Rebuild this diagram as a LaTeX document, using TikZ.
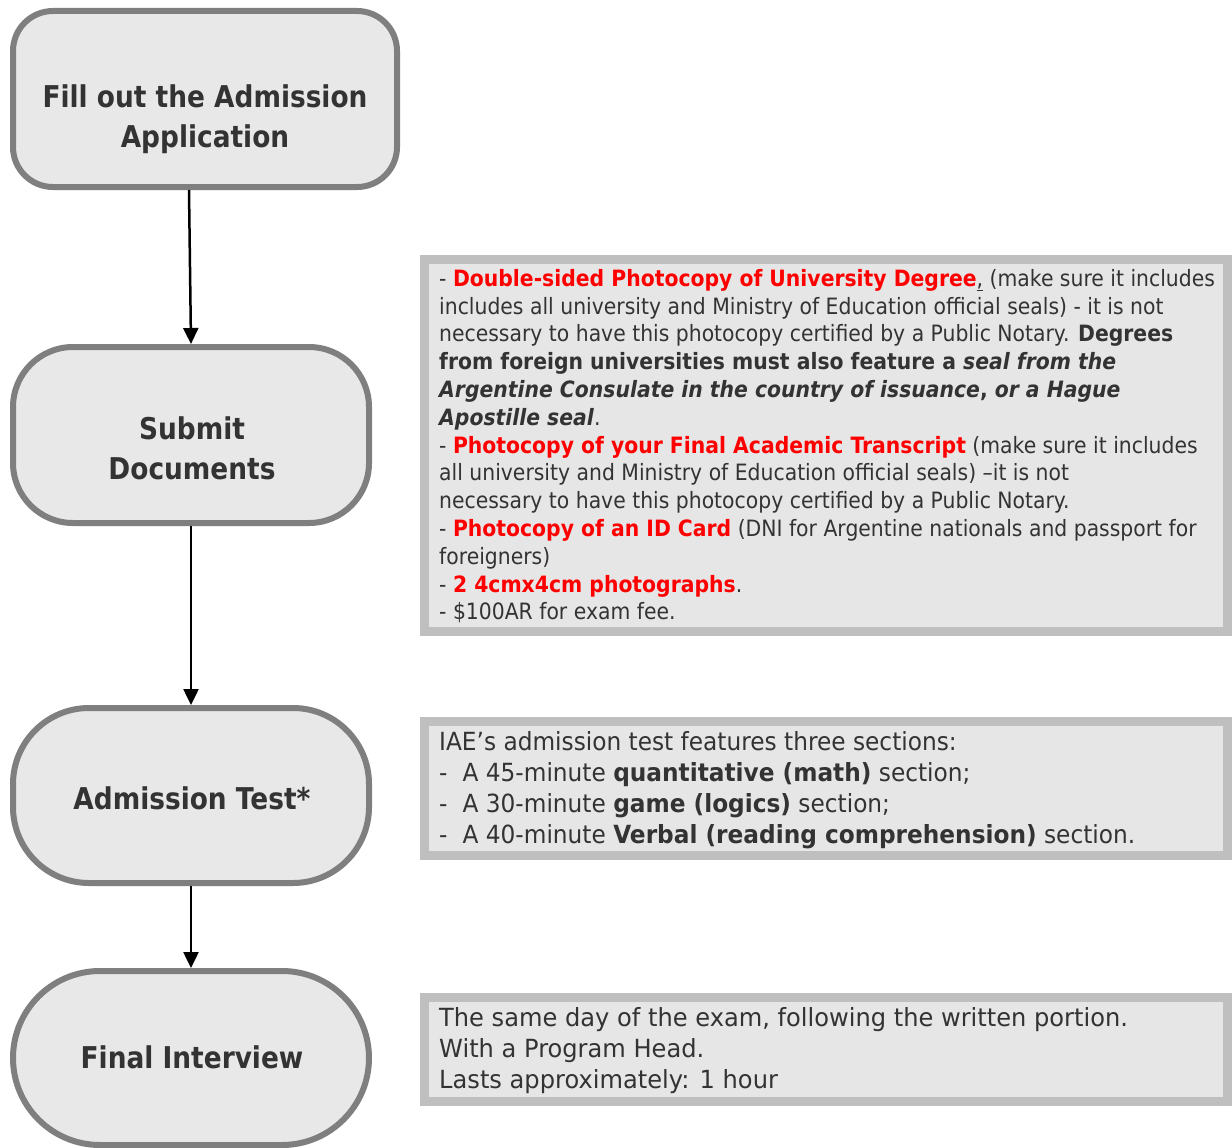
\documentclass[tikz,border=0pt]{standalone}
\usepackage{fontspec}
\setmainfont{DejaVu Sans}
\newfontfamily\titlefont[FakeStretch=0.88]{DejaVu Sans}
\newfontfamily\bodyfont[FakeStretch=0.905]{DejaVu Sans}
\newfontfamily\bodyfontB[FakeStretch=0.93]{DejaVu Sans}
\newfontfamily\bodyfontC[FakeStretch=0.965]{DejaVu Sans}
\usetikzlibrary{arrows.meta}
\definecolor{stepfill}{HTML}{E8E8E8}
\definecolor{stepdraw}{HTML}{7F7F7F}
\definecolor{notefill}{HTML}{E6E6E6}
\definecolor{notedraw}{HTML}{BFBFBF}
\definecolor{txt}{HTML}{333333}
\definecolor{hot}{HTML}{FF0000}
\newcommand{\hot}[1]{\textcolor{hot}{\bfseries #1}}
\begin{document}
\begin{tikzpicture}[x=1pt,y=-1pt,
 stepbox/.style={draw=stepdraw, fill=stepfill, line width=6pt, inner sep=0pt, outer sep=3pt},
 steplabel/.style={text=txt, font=\titlefont\bfseries\fontsize{30}{40}\selectfont, align=center, inner sep=0pt},
 notebox/.style={draw=notedraw, fill=notefill, line width=9pt, inner sep=0pt, outer sep=0pt, anchor=north west},
 notetext/.style={text=txt, align=left, inner sep=0pt, anchor=north west},
 flow/.style={line width=2.5pt, -{Triangle[width=15pt,length=16pt]}}
]
\useasboundingbox[fill=white] (0,0) rectangle (1232,1148);

% step boxes
\node[stepbox, minimum width=384, minimum height=176, rounded corners=40] (fill) at (205,99) {};
\node[stepbox, minimum width=356, minimum height=176, rounded corners=60] (submit) at (191,435) {};
\node[stepbox, minimum width=356, minimum height=175, rounded corners=76] (test) at (191,795.5) {};
\node[stepbox, minimum width=356, minimum height=174, rounded corners=87] (interview) at (191,1058) {};

\node[steplabel] (fillL) at (205,119) {Fill out the Admission\\Application};
\node[steplabel] (submitL) at (192,448) {Submit\\Documents};
\node[steplabel] (testL) at (192,798) {Admission Test*};
\node[steplabel] (interviewL) at (192,1057) {Final Interview};

% connectors
\draw[flow] ([xshift=-16pt]fill.south) -- (submit.north);
\draw[flow] (submit.south) -- (test.north);
\draw[flow] (test.south) -- (interview.north);

% note boxes
\node[notebox, minimum width=803, minimum height=372] (docsbox) at (424.5,259.5) {};
\node[notebox, minimum width=803, minimum height=134] (testbox) at (424.5,721.5) {};
\node[notebox, minimum width=803, minimum height=104] (intbox) at (424.5,997.5) {};

\node[notetext, font=\bodyfont\fontsize{22.5}{27.8}\selectfont] (docstext) at (439,269) {%
- \hot{Double-sided Photocopy of University Degree}\underline{,} (make sure it includes\\
includes all university and Ministry of Education official seals) - it is not\\
necessary to have this photocopy certified by a Public Notary. \textbf{Degrees}\\
\textbf{from foreign universities must also feature a \textit{seal from the}}\\
\textbf{\textit{Argentine Consulate in the country of issuance}, \textit{or a Hague}}\\
\textbf{\textit{Apostille seal}}.\\
- \hot{Photocopy of your Final Academic Transcript} (make sure it includes\\
all university and Ministry of Education official seals) –it is not\\
necessary to have this photocopy certified by a Public Notary.\\
- \hot{Photocopy of an ID Card} (DNI for Argentine nationals and passport for\\
foreigners)\\
- \hot{2 4cmx4cm photographs}.\\
- \$100AR for exam fee.};

\node[notetext, font=\bodyfontB\fontsize{25}{31}\selectfont] (testtext) at (439,731) {%
IAE’s admission test features three sections:\\
-\hspace{15pt}A 45-minute \textbf{quantitative (math)} section;\\
-\hspace{15pt}A 30-minute \textbf{game (logics)} section;\\
-\hspace{15pt}A 40-minute \textbf{Verbal (reading comprehension)} section.};

\node[notetext, font=\bodyfontC\fontsize{25}{31}\selectfont] (inttext) at (439,1007) {%
The same day of the exam, following the written portion.\\
With a Program Head.\\
Lasts approximately: 1 hour};
\end{tikzpicture}
\end{document}
